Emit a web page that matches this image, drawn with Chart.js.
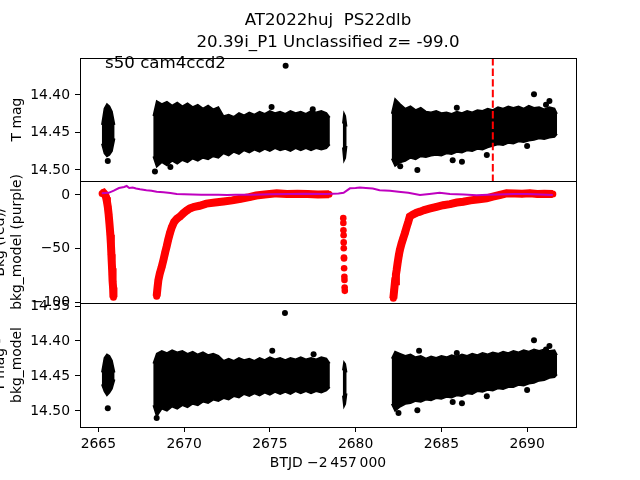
<!DOCTYPE html>
<html>
<head>
<meta charset="utf-8">
<script src="https://cdn.jsdelivr.net/npm/chart.js@4.4.1/dist/chart.umd.min.js"></script>
<style>
  body { margin: 0; width: 640px; height: 480px; overflow: hidden; position: relative; background: #fff; }
  canvas { position: absolute; left: -8px; }
</style>
</head>
<body>
<canvas id="topChart" width="648" height="201" style="top:0"></canvas>
<canvas id="bkgChart" width="648" height="162" style="top:161px"></canvas>
<canvas id="diffChart" width="648" height="197" style="top:283px"></canvas>
<script>
// Light curve panels - T mag, background, T mag - bkg_model

const titleLines = ['AT2022huj  PS22dlb', '20.39i_P1 Unclassified z= -99.0'];
const sectorLabel = 's50 cam4ccd2';

const xTicks = [2665, 2670, 2675, 2680, 2685, 2690];
const topTicks = [14.40, 14.45, 14.50];
const bkgTicks = [0, -50, -100];
const diffTicks = [14.35, 14.40, 14.45, 14.50];

const markerT = 2688.0;

// band envelope times, per orbit segment
const bandT = [
    [2665.20, 2665.35, 2665.50, 2665.65, 2665.80, 2665.95],
    [2668.2, 2668.4, 2668.7, 2669.0, 2669.3, 2669.6, 2669.9, 2670.2, 2670.5, 2670.8, 2671.1, 2671.4,
     2671.7, 2672.0, 2672.3, 2672.6, 2672.9, 2673.2, 2673.5, 2673.8, 2674.1, 2674.4, 2674.7, 2675.0,
     2675.3, 2675.6, 2675.9, 2676.2, 2676.5, 2676.8, 2677.1, 2677.4, 2677.7, 2678.0, 2678.3, 2678.5],
    [2679.25, 2679.32, 2679.40, 2679.48],
    [2682.1, 2682.3, 2682.6, 2682.9, 2683.2, 2683.5, 2683.8, 2684.1, 2684.4, 2684.7, 2685.0, 2685.3,
     2685.6, 2685.9, 2686.2, 2686.5, 2686.8, 2687.1, 2687.4, 2687.7, 2688.0, 2688.3, 2688.6, 2688.9,
     2689.2, 2689.5, 2689.8, 2690.1, 2690.4, 2690.7, 2691.0, 2691.3, 2691.6, 2691.75]
];

// T mag, upper (bright) and lower (faint) edge of the point cloud
const topHi = [
    [14.440, 14.418, 14.412, 14.415, 14.422, 14.440],
    [14.428, 14.408, 14.412, 14.409, 14.414, 14.410, 14.415, 14.411, 14.416, 14.413, 14.418, 14.414,
     14.419, 14.416, 14.428, 14.426, 14.429, 14.424, 14.427, 14.423, 14.426, 14.422, 14.425, 14.421,
     14.424, 14.422, 14.425, 14.421, 14.424, 14.422, 14.425, 14.421, 14.423, 14.421, 14.424, 14.430],
    [14.438, 14.424, 14.428, 14.442],
    [14.425, 14.405, 14.412, 14.418, 14.415, 14.420, 14.417, 14.422, 14.423, 14.421, 14.424, 14.423,
     14.425, 14.422, 14.424, 14.421, 14.423, 14.420, 14.421, 14.418, 14.420, 14.416, 14.418, 14.415,
     14.417, 14.415, 14.418, 14.414, 14.417, 14.416, 14.419, 14.416, 14.418, 14.425]
];
const topLo = [
    [14.465, 14.478, 14.482, 14.480, 14.475, 14.458],
    [14.482, 14.496, 14.490, 14.494, 14.488, 14.492, 14.487, 14.490, 14.485, 14.488, 14.484, 14.486,
     14.482, 14.484, 14.478, 14.481, 14.476, 14.479, 14.474, 14.477, 14.473, 14.476, 14.472, 14.475,
     14.471, 14.474, 14.472, 14.475, 14.471, 14.474, 14.471, 14.474, 14.471, 14.473, 14.471, 14.466],
    [14.470, 14.488, 14.484, 14.468],
    [14.485, 14.495, 14.490, 14.488, 14.484, 14.486, 14.482, 14.483, 14.481, 14.480, 14.481, 14.478,
     14.479, 14.476, 14.477, 14.474, 14.475, 14.472, 14.473, 14.470, 14.468, 14.466, 14.467, 14.464,
     14.465, 14.462, 14.463, 14.461, 14.460, 14.458, 14.459, 14.457, 14.456, 14.452]
];
const topOutT = [2675.92, 2675.10, 2677.50, 2690.40, 2691.30, 2691.10, 2687.65, 2685.90, 2685.66,
                 2686.20, 2683.60, 2690.00, 2682.60, 2668.30, 2665.55, 2669.20];
const topOutMag = [14.361, 14.416, 14.419, 14.399, 14.408, 14.413, 14.480, 14.417, 14.487,
                   14.489, 14.500, 14.468, 14.495, 14.502, 14.488, 14.496];

// T mag - bkg_model
const diffHi = [
    [14.445, 14.424, 14.419, 14.421, 14.428, 14.445],
    [14.432, 14.418, 14.414, 14.417, 14.413, 14.416, 14.414, 14.418, 14.415, 14.419, 14.416, 14.420,
     14.418, 14.421, 14.428, 14.425, 14.428, 14.424, 14.427, 14.425, 14.428, 14.424, 14.427, 14.423,
     14.426, 14.424, 14.427, 14.424, 14.426, 14.423, 14.426, 14.424, 14.426, 14.423, 14.425, 14.432],
    [14.442, 14.430, 14.433, 14.445],
    [14.425, 14.415, 14.418, 14.421, 14.419, 14.423, 14.421, 14.425, 14.422, 14.424, 14.421, 14.423,
     14.420, 14.422, 14.419, 14.421, 14.418, 14.420, 14.417, 14.419, 14.416, 14.418, 14.415, 14.417,
     14.414, 14.416, 14.413, 14.415, 14.412, 14.414, 14.412, 14.414, 14.413, 14.420]
];
const diffLo = [
    [14.462, 14.472, 14.478, 14.474, 14.468, 14.455],
    [14.492, 14.508, 14.497, 14.500, 14.494, 14.497, 14.492, 14.495, 14.490, 14.492, 14.487, 14.489,
     14.484, 14.486, 14.482, 14.484, 14.479, 14.481, 14.476, 14.479, 14.475, 14.478, 14.474, 14.477,
     14.473, 14.476, 14.473, 14.476, 14.472, 14.475, 14.472, 14.475, 14.472, 14.474, 14.471, 14.466],
    [14.478, 14.494, 14.490, 14.475],
    [14.490, 14.500, 14.494, 14.490, 14.489, 14.486, 14.487, 14.484, 14.485, 14.482, 14.483, 14.480,
     14.481, 14.478, 14.479, 14.475, 14.476, 14.472, 14.473, 14.470, 14.471, 14.468, 14.469, 14.466,
     14.466, 14.463, 14.464, 14.461, 14.460, 14.457, 14.456, 14.453, 14.452, 14.448]
];
const diffOutT = [2675.88, 2675.14, 2677.55, 2690.40, 2691.30, 2691.10, 2687.65, 2685.90, 2683.70,
                  2685.66, 2686.20, 2682.50, 2683.60, 2690.00, 2668.40, 2665.55];
const diffOutMag = [14.360, 14.414, 14.419, 14.399, 14.407, 14.412, 14.479, 14.417, 14.414,
                    14.487, 14.489, 14.503, 14.499, 14.470, 14.510, 14.496];

// background (red), per segment
const bkgT = [
    [2665.22, 2665.30, 2665.38, 2665.45, 2665.50, 2665.55, 2665.60, 2665.65, 2665.70, 2665.73,
     2665.76, 2665.78, 2665.80, 2665.82, 2665.84, 2665.86, 2665.88],
    [2668.40, 2668.45, 2668.50, 2668.58, 2668.69, 2668.80, 2668.90, 2668.98, 2669.08, 2669.18,
     2669.28, 2669.42, 2669.58, 2669.76, 2669.95, 2670.15, 2670.34, 2670.6, 2670.9, 2671.3,
     2671.8, 2672.3, 2672.8, 2673.3, 2673.8, 2674.2, 2674.7, 2675.4, 2676.0, 2676.6, 2677.2,
     2677.8, 2678.45],
    [2682.20, 2682.25, 2682.30, 2682.35, 2682.39, 2682.45, 2682.52, 2682.58, 2682.68, 2682.78,
     2682.87, 2682.97, 2683.07, 2683.16, 2683.35, 2683.55, 2683.75, 2684.0, 2684.35, 2684.72,
     2685.1, 2685.5, 2685.9, 2686.27, 2686.7, 2687.2, 2687.63, 2688.0, 2688.4, 2688.8, 2689.3,
     2689.7, 2690.16, 2690.6, 2691.0, 2691.5]
];
const bkgVal = [
    [1.5, 2.0, 0.5, -2, -6, -11, -18, -27, -37, -45, -55, -62, -68, -74, -80, -86, -95],
    [-94, -86, -79, -73, -67, -60, -53, -48, -41, -35, -30, -25, -22, -20, -17, -14.5, -12.5, -11,
     -10, -8, -7, -6, -5, -3.5, -2, -0.5, 0.5, 1.5, 1.0, 1.2, 1.0, 0.5, 0.8],
    [-96, -88, -80, -74, -70, -63, -56, -51, -45, -40, -35.5, -30, -25, -20, -18, -16.5, -15.5, -14,
     -12.5, -11, -9.5, -8.5, -7, -6.2, -5, -4, -3.1, -1.5, 0, 1.6, 1.5, 1.2, 1.6, 1.0, 1.2, 1.0]
];
const bkgColT = [2679.28, 2679.285, 2679.29, 2679.30, 2679.305, 2679.31, 2679.32, 2679.325, 2679.33,
                 2679.345, 2679.35, 2679.36, 2679.37];
const bkgColVal = [-21.5, -26, -32.7, -37.4, -44, -49.5, -58, -59, -68, -76, -79, -86, -89];

// bkg_model (purple)
const modelT = [2665.2, 2665.6, 2665.9, 2666.2, 2666.5, 2666.65, 2666.8, 2667.0, 2667.2, 2667.43,
                2667.8, 2668.1, 2668.4, 2668.8, 2669.2, 2669.57, 2670.0, 2670.5, 2671.0, 2671.5,
                2672.0, 2672.5, 2673.0, 2674.0, 2675.0, 2676.17, 2677.0, 2678.3, 2679.0, 2679.3,
                2679.67, 2680.0, 2680.25, 2680.6, 2681.0, 2681.4, 2682.0, 2682.5, 2683.07, 2683.75,
                2684.3, 2684.9, 2685.5, 2686.3, 2687.05, 2687.7, 2688.3, 2689.2, 2690.0, 2690.8, 2691.5];
const modelVal = [1.6, 2.0, 4.0, 6.5, 7.5, 8.4, 6.5, 7.0, 6.0, 5.3,
                  4.5, 4.0, 3.0, 2.5, 1.8, 1.0, 0.8, 0.5, 0.3, 0.2,
                  0.3, 0.0, 0.2, 0.3, 0.6, 1.0, 1.2, 1.0, 1.5, 2.0,
                  6.2, 6.5, 7.0, 6.5, 6.0, 4.5, 4.0, 3.0, 2.0, 0.0,
                  1.0, 2.0, 1.0, 0.5, -0.3, 0.2, 0.5, 1.0, 1.0, 0.5, 0.0];

const X_MIN = 2663.93, X_MAX = 2692.85;
const TOP_RANGE = [14.3507, 14.5147];
const BKG_RANGE = [-100.3, 13.0];
const DIFF_RANGE = [14.3457, 14.5229];

Chart.defaults.font.family = "'DejaVu Sans', sans-serif";
Chart.defaults.font.size = 13.9;
Chart.defaults.color = '#000';

const xy = (ts, vs) => ts.map((t, i) => ({ x: t, y: vs[i] }));
const minus = v => (v < 0 ? '\u2212' + Math.abs(v) : String(v));

// frame around each panel; adjacent panels share the same pixel row
const boxPlugin = {
    id: 'box',
    afterDraw(chart) {
        const a = chart.chartArea;
        const ctx = chart.ctx;
        ctx.save();
        ctx.strokeStyle = '#000';
        ctx.lineWidth = 1;
        ctx.strokeRect(Math.round(a.left) + 0.5, Math.round(a.top) + 0.5,
            Math.round(a.right - a.left), Math.round(a.bottom - a.top));
        ctx.restore();
    }
};

const labelPlugin = {
    id: 'sector',
    afterDraw(chart) {
        const ctx = chart.ctx;
        ctx.save();
        ctx.font = "16.67px 'DejaVu Sans'";
        ctx.fillStyle = '#000';
        ctx.textBaseline = 'middle';
        ctx.fillText(sectorLabel, 113, 64);
        ctx.restore();
    }
};

function xScale(show) {
    return {
        type: 'linear', min: X_MIN, max: X_MAX, display: show,
        afterBuildTicks: s => { s.ticks = xTicks.map(v => ({ value: v })); },
        afterFit: s => { s.height = show ? 53 : 0; },
        ticks: { padding: 4, maxRotation: 0, autoSkip: false, callback: v => String(v) },
        grid: { display: true, drawOnChartArea: false, tickLength: 5, color: '#000' },
        border: { display: false },
        title: { display: show, text: 'BTJD \u22122\u2009457\u2009000', padding: { top: 0, bottom: 8 } }
    };
}

function yScale(range, ticks, fmt, reverse, label, titlePad) {
    return {
        type: 'linear', min: range[0], max: range[1], reverse: reverse,
        afterBuildTicks: s => { s.ticks = ticks.map(v => ({ value: v })); },
        afterFit: s => { s.width = 88; },
        ticks: { padding: 5, callback: fmt },
        grid: { display: true, drawOnChartArea: false, tickLength: 5, color: '#000' },
        border: { display: false },
        title: { display: true, text: label, padding: { top: titlePad, bottom: 0 }, font: { lineHeight: 1.2 } }
    };
}

function bandSets(hi, lo) {
    const sets = [];
    bandT.forEach((ts, k) => {
        sets.push({ data: xy(ts, hi[k]), borderColor: '#000', backgroundColor: '#000', borderWidth: 1.5,
                    pointRadius: 0, fill: '+1', order: 2 });
        sets.push({ data: xy(ts, lo[k]), borderColor: '#000', backgroundColor: '#000', borderWidth: 1.5,
                    pointRadius: 0, fill: false, order: 2 });
    });
    return sets;
}

function outlierSet(ts, vs) {
    return { data: xy(ts, vs), showLine: false, pointRadius: 3, pointBackgroundColor: '#000',
             pointBorderWidth: 0, order: 1 };
}

const baseOptions = {
    responsive: false, animation: false, devicePixelRatio: 1,
    plugins: { legend: { display: false }, tooltip: { enabled: false } }
};

// T mag panel
new Chart(document.getElementById('topChart'), {
    type: 'line',
    data: {
        datasets: [
            ...bandSets(topHi, topLo),
            outlierSet(topOutT, topOutMag),
            { data: [{ x: markerT, y: TOP_RANGE[0] }, { x: markerT, y: TOP_RANGE[1] }],
              borderColor: '#ff0000', borderWidth: 2, borderDash: [7.4, 3.2], pointRadius: 0, order: 0 }
        ]
    },
    options: {
        ...baseOptions,
        layout: { padding: { top: 0, bottom: 20, left: 0, right: 64 } },
        plugins: {
            ...baseOptions.plugins,
            title: { display: true, text: titleLines, fullSize: false, color: '#000',
                     font: { size: 16.67, weight: 'normal', lineHeight: 1.32 },
                     padding: { top: 10, bottom: 4 } }
        },
        scales: {
            x: xScale(false),
            y: yScale(TOP_RANGE, topTicks, v => v.toFixed(2), true, 'T mag', 16.6)
        }
    },
    plugins: [boxPlugin, labelPlugin]
});

// background panel
const bkgSets = bkgT.map((ts, k) => ({
    data: xy(ts, bkgVal[k]), borderColor: '#ff0000', borderWidth: 8, pointRadius: 3.5,
    pointBackgroundColor: '#ff0000', pointBorderWidth: 0, order: 1
}));

new Chart(document.getElementById('bkgChart'), {
    type: 'line',
    data: {
        datasets: [
            { data: xy(modelT, modelVal), borderColor: '#bf00bf', borderWidth: 2, pointRadius: 0, order: 0 },
            ...bkgSets,
            { data: xy(bkgColT, bkgColVal), showLine: false, pointRadius: 3.3,
              pointBackgroundColor: '#ff0000', pointBorderWidth: 0, order: 1 }
        ]
    },
    options: {
        ...baseOptions,
        layout: { padding: { top: 20, bottom: 20, left: 0, right: 64 } },
        scales: {
            x: xScale(false),
            y: yScale(BKG_RANGE, bkgTicks, minus, false, ['Bkg (red)/', 'bkg_model (purple)'], 0)
        }
    },
    plugins: [boxPlugin]
});

// T mag - bkg_model panel
new Chart(document.getElementById('diffChart'), {
    type: 'line',
    data: {
        datasets: [
            ...bandSets(diffHi, diffLo),
            outlierSet(diffOutT, diffOutMag)
        ]
    },
    options: {
        ...baseOptions,
        layout: { padding: { top: 20, bottom: 0, left: 0, right: 64 } },
        scales: {
            x: xScale(true),
            y: yScale(DIFF_RANGE, diffTicks, v => v.toFixed(2), true, ['T mag -', 'bkg_model'], 0)
        }
    },
    plugins: [boxPlugin]
});
</script>
</body>
</html>
